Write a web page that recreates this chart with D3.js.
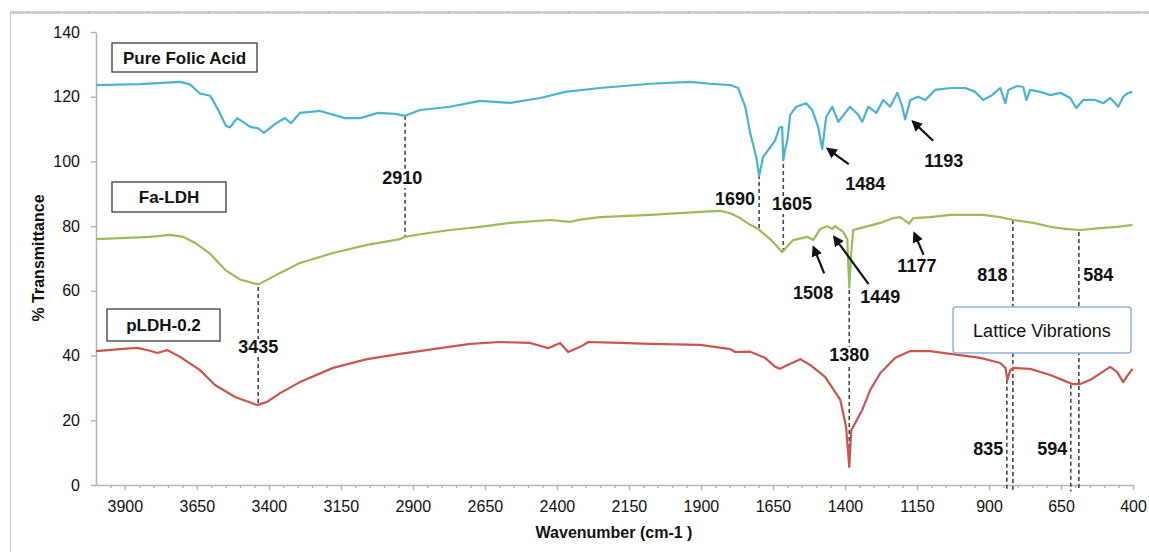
<!DOCTYPE html>
<html>
<head>
<meta charset="utf-8">
<script src="https://cdn.jsdelivr.net/npm/d3@7"></script>
<style>
body { margin: 0; background: #fff; }
svg { display: block; font-family: "Liberation Sans", Arial, sans-serif; }
</style>
</head>
<body>
<svg id="chart" width="1149" height="552"></svg>
<script>

// spectra: wavenumber (cm-1) and % transmittance
var pureWn = [4000, 3847, 3708, 3674, 3639, 3604, 3576, 3549, 3535, 3510, 3486, 3465, 3437, 3417, 3378, 3344, 3323, 3292, 3222, 3135, 3083, 3021, 2962, 2927, 2875, 2771, 2667, 2562, 2458, 2371, 2250, 2076, 1937, 1868, 1798, 1771, 1746, 1729, 1708, 1698, 1684, 1666, 1642, 1628, 1618, 1614, 1607, 1600, 1590, 1569, 1535, 1514, 1493, 1479, 1465, 1444, 1423, 1399, 1382, 1354, 1340, 1319, 1291, 1267, 1243, 1218, 1201, 1191, 1173, 1146, 1121, 1087, 1034, 982, 948, 920, 889, 861, 843, 833, 802, 781, 770, 757, 722, 687, 652, 618, 597, 573, 531, 503, 479, 451, 434, 416, 402];
var pureT  = [123.6, 123.9, 124.6, 123.8, 121, 120.3, 116, 111, 110.5, 113.4, 112, 110.7, 110.2, 108.8, 111.6, 113.4, 111.8, 115, 115.6, 113.4, 113.4, 115, 114.7, 114.1, 115.9, 116.9, 118.7, 118.1, 119.6, 121.5, 122.7, 124, 124.6, 124, 123.6, 122.7, 116.9, 108.8, 101.4, 95.5, 101.4, 103.6, 106.6, 110.4, 110.7, 100.5, 104, 106.6, 114.4, 116.9, 118, 115.9, 110.7, 103.8, 113.8, 116.9, 112.2, 115, 116.9, 114.4, 112.2, 116.9, 115, 119, 116.9, 121.2, 116.9, 113, 119, 120, 119, 122.1, 122.7, 122.7, 121.5, 119, 120.5, 122.7, 118, 122.1, 123.3, 123, 119, 122.1, 121.5, 120.5, 121.2, 119.6, 116.5, 119, 119, 118, 119.6, 116.9, 120, 121.2, 121.5];

var faWn = [4000, 3812, 3743, 3698, 3656, 3604, 3552, 3500, 3437, 3406, 3361, 3292, 3177, 3059, 2944, 2927, 2875, 2771, 2667, 2562, 2423, 2354, 2319, 2250, 2076, 1903, 1833, 1798, 1764, 1729, 1701, 1660, 1618, 1580, 1531, 1510, 1486, 1462, 1444, 1434, 1406, 1392, 1385, 1378, 1371, 1347, 1277, 1232, 1208, 1177, 1163, 1104, 1034, 920, 861, 816, 746, 687, 628, 583, 514, 455, 402];
var faT  = [76, 76.7, 77.3, 76.7, 74.8, 71.5, 66.5, 63.5, 62, 63.4, 65.5, 68.6, 71.7, 74.2, 76, 76.7, 77.5, 78.8, 79.8, 81, 81.9, 81.3, 82, 82.8, 83.5, 84.4, 84.7, 84, 82.5, 80.4, 79.1, 76, 72, 75.7, 76.7, 75.7, 79.1, 80, 79.1, 80, 78.2, 76, 61, 72, 78.8, 79.4, 81, 82.5, 82.8, 80.8, 82.5, 82.8, 83.5, 83.5, 82.8, 81.9, 81, 79.8, 79.1, 78.8, 79.4, 79.8, 80.4];

var pldhWn = [4000, 3917, 3858, 3812, 3788, 3753, 3708, 3639, 3587, 3517, 3441, 3406, 3361, 3292, 3177, 3059, 2944, 2805, 2701, 2597, 2493, 2430, 2389, 2361, 2319, 2291, 2180, 2076, 1903, 1798, 1781, 1729, 1677, 1642, 1625, 1607, 1555, 1521, 1469, 1416, 1396, 1385, 1378, 1364, 1340, 1312, 1277, 1225, 1173, 1104, 1034, 930, 861, 843, 836, 826, 816, 757, 687, 635, 611, 583, 548, 496, 479, 455, 434, 420, 402];
var pldhT  = [41.4, 42, 42.4, 41.5, 40.8, 41.7, 39.6, 35.5, 30.9, 27.2, 24.7, 25.7, 28.4, 31.8, 36.2, 38.9, 40.5, 42.3, 43.6, 44.2, 43.9, 42.3, 43.9, 41.1, 42.7, 44.2, 43.9, 43.6, 43.3, 42, 41.1, 41.2, 39.3, 36.5, 35.9, 36.8, 38.9, 37.1, 33.4, 26.3, 17.9, 5.6, 17, 19.2, 23.2, 29.4, 34.6, 39.3, 41.4, 41.4, 40.5, 39.3, 37.7, 36.2, 32.5, 35.5, 36.2, 35.9, 34, 32.1, 31.2, 31.2, 32.5, 35.5, 36.5, 34.9, 31.8, 33.7, 35.9];

var seriesNames = ["Pure Folic Acid", "Fa-LDH", "pLDH-0.2"];

// axis ticks
var xMajor = [3900, 3650, 3400, 3150, 2900, 2650, 2400, 2150, 1900, 1650, 1400, 1150, 900, 650, 400];
var yTicks = [0, 20, 40, 60, 80, 100, 120, 140];

// dashed drop lines: position, from, to
var dropAt   = [3437, 2927, 1698, 1614, 1385, 817, 588, 838, 616];
var dropFrom = [61.2, 114.1, 95.8, 101.4, 60.3, 81.9, 78.2, 32.5, 31];
var dropTo   = [24.7, 76.7, 79.1, 72, 5.6, -1.5, -1.5, -1.5, -2];

// peak labels
var peakText = ["3435", "2910", "1690", "1605", "1380", "818", "584", "835", "594", "1484", "1193", "1177", "1508", "1449"];
var peakWn   = [3437, 2937, 1712, 1653, 1385, 836, 573, 850, 628, 1399, 1125, 1218, 1580, 1347];
var peakT    = [40.8, 93, 86.6, 85, 38.4, 63, 63, 9.3, 9.3, 91.2, 98.4, 65.8, 57.5, 56.4];

// arrows: tail -> head
var arrowFromWn = [1387, 1094, 1127, 1472, 1318];
var arrowFromT  = [99.2, 106.4, 71.1, 65.4, 62.1];
var arrowToWn   = [1460, 1164, 1159, 1509, 1437];
var arrowToT    = [103.9, 112.3, 77.8, 73.5, 76.6];

var svg = d3.select("#chart");
var x = d3.scaleLinear().domain([4000, 400]).range([96, 1133]);
var y = d3.scaleLinear().domain([0, 140]).range([485, 32]);

// page frame
svg.append("rect").attr("x", 10).attr("y", 11).attr("width", 1139).attr("height", 3).attr("fill", "#cfcfcf");
svg.append("line").attr("x1", 10.5).attr("x2", 10.5).attr("y1", 11).attr("y2", 552)
	.attr("stroke", "#c8c8c8").attr("stroke-width", 1);
svg.append("g").selectAll("rect").data(d3.range(28, 1149, 30)).join("rect")
	.attr("x", function(d){ return d; }).attr("y", 12).attr("width", 1).attr("height", 1).attr("fill", "#999");

// axes
var xAxis = svg.append("g").attr("transform", "translate(0,485)")
	.call(d3.axisBottom(x).tickValues(xMajor).tickSize(5).tickSizeOuter(0).tickPadding(11).tickFormat(d3.format("d")));
var minor = d3.range(400, 4000, 50).filter(function(d){ return xMajor.indexOf(d) < 0; });
svg.append("g").attr("transform", "translate(0,485)")
	.call(d3.axisBottom(x).tickValues(minor).tickSize(3).tickFormat(""))
	.select(".domain").remove();
var yAxis = svg.append("g").attr("transform", "translate(96,0)")
	.call(d3.axisLeft(y).tickValues(yTicks).tickSize(5).tickSizeOuter(0).tickPadding(11));

svg.selectAll(".domain, .tick line").attr("stroke", "#b5b5b5").attr("stroke-width", 1.5);
svg.selectAll(".tick text").attr("font-size", 16).attr("fill", "#111")
	.attr("font-family", "'Liberation Sans', Arial, sans-serif");

svg.append("text").attr("x", 614).attr("y", 538).attr("text-anchor", "middle")
	.attr("font-size", 16).attr("font-weight", "bold").attr("fill", "#111").text("Wavenumber (cm-1 )");
svg.append("text").attr("transform", "translate(44,258) rotate(-90)").attr("text-anchor", "middle")
	.attr("font-size", 16).attr("font-weight", "bold").attr("fill", "#111").text("% Transmittance");

// dashed lines (drawn first so labels sit on top)
svg.append("g").selectAll("line").data(dropAt).join("line")
	.attr("x1", function(d){ return x(d); }).attr("x2", function(d){ return x(d); })
	.attr("y1", function(d, i){ return y(dropFrom[i]); })
	.attr("y2", function(d, i){ return y(dropTo[i]); })
	.attr("stroke", "#444").attr("stroke-width", 1.6).attr("stroke-dasharray", "4,3");

// spectra
var series = [
	{ wn: pureWn, t: pureT, color: "#4bb2cf" },
	{ wn: faWn, t: faT, color: "#9bbb59" },
	{ wn: pldhWn, t: pldhT, color: "#c9554f" }
];
var line = d3.line()
	.x(function(d){ return x(d[0]); })
	.y(function(d){ return y(d[1]); });
svg.append("g").selectAll("path").data(series).join("path")
	.attr("d", function(s){ return line(d3.zip(s.wn, s.t)); })
	.attr("fill", "none").attr("stroke", function(s){ return s.color; })
	.attr("stroke-width", 2.2).attr("stroke-linejoin", "round");

// lattice box (hides the dashed lines behind it)
var lat = svg.append("g");
lat.append("rect").attr("x", 953).attr("y", 307).attr("width", 178).attr("height", 46).attr("rx", 3)
	.attr("fill", "#fff").attr("stroke", "#93b1d9").attr("stroke-width", 1.5);
lat.append("text").attr("x", 1042).attr("y", 337).attr("text-anchor", "middle")
	.attr("font-size", 18).attr("fill", "#111").text("Lattice Vibrations");

// series name boxes
var boxX = [112, 112, 107], boxY = [43, 182, 309], boxW = [145, 114, 113], boxH = [29, 30, 32];
var names = svg.append("g").selectAll("g").data(seriesNames).join("g");
names.append("rect")
	.attr("x", function(d, i){ return boxX[i]; }).attr("y", function(d, i){ return boxY[i]; })
	.attr("width", function(d, i){ return boxW[i]; }).attr("height", function(d, i){ return boxH[i]; })
	.attr("fill", "#fff").attr("stroke", "#3c3c3c").attr("stroke-width", 1.3);
names.append("text")
	.attr("x", function(d, i){ return boxX[i] + boxW[i] / 2; })
	.attr("y", function(d, i){ return boxY[i] + boxH[i] / 2 + 6; })
	.attr("text-anchor", "middle").attr("font-size", 17).attr("font-weight", "bold").attr("fill", "#111")
	.text(function(d){ return d; });

// peak labels with white background
var anchors = ["middle", "middle", "end", "start", "middle", "end", "start", "end", "end", "start", "start", "start", "start", "start"];
var labels = svg.append("g").selectAll("g").data(peakText).join("g");
labels.append("rect").attr("fill", "#fff");
labels.append("text")
	.attr("x", function(d, i){ return x(peakWn[i]); })
	.attr("y", function(d, i){ return y(peakT[i]); })
	.attr("text-anchor", function(d, i){ return anchors[i]; })
	.attr("font-size", 18).attr("font-weight", "bold").attr("fill", "#111")
	.text(function(d){ return d; });
labels.each(function(){
	var g = d3.select(this), b = g.select("text").node().getBBox();
	g.select("rect").attr("x", b.x - 1).attr("y", b.y + 2).attr("width", b.width + 2).attr("height", b.height - 2);
});

// arrows
svg.append("defs").append("marker").attr("id", "head")
	.attr("viewBox", "0 0 10 10").attr("refX", 8).attr("refY", 5)
	.attr("markerWidth", 5).attr("markerHeight", 5).attr("orient", "auto")
	.append("path").attr("d", "M0,0 L10,5 L0,10 z").attr("fill", "#111");
svg.append("g").selectAll("line").data(arrowFromWn).join("line")
	.attr("x1", function(d){ return x(d); })
	.attr("y1", function(d, i){ return y(arrowFromT[i]); })
	.attr("x2", function(d, i){ return x(arrowToWn[i]); })
	.attr("y2", function(d, i){ return y(arrowToT[i]); })
	.attr("stroke", "#111").attr("stroke-width", 2.2).attr("marker-end", "url(#head)");

</script>
</body>
</html>
